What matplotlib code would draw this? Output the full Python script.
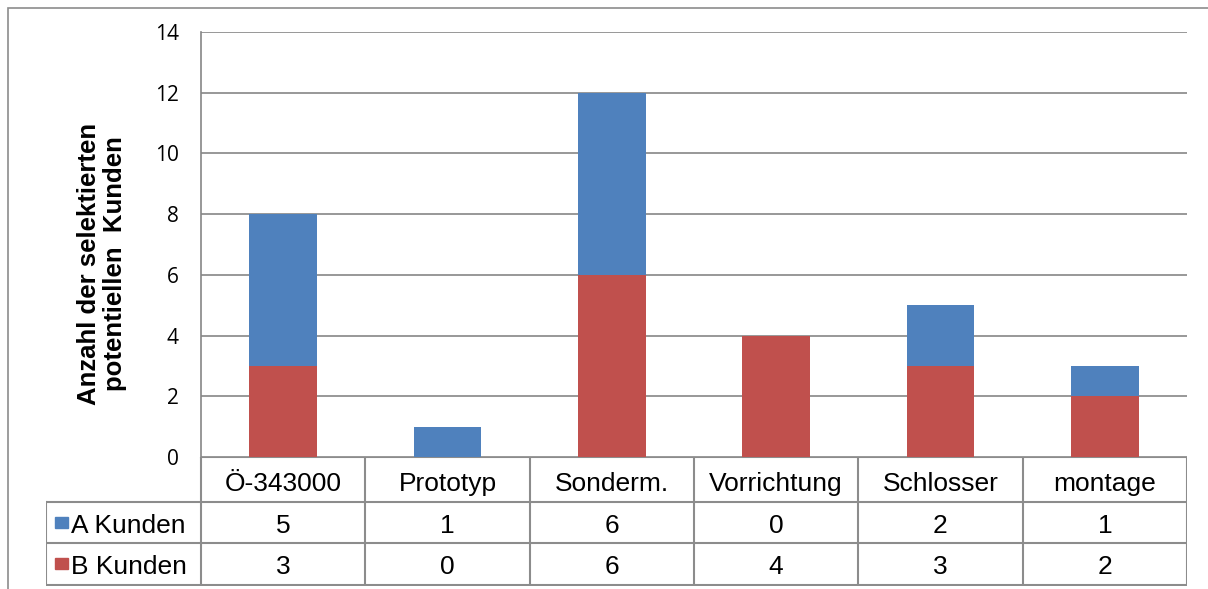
import numpy as np
import matplotlib.pyplot as plt
from matplotlib.patches import Rectangle

categories = ["Ö-343000", "Prototyp", "Sonderm.", "Vorrichtung", "Schlosser", "montage"]
a_kunden = [5, 1, 6, 0, 2, 1]
b_kunden = [3, 0, 6, 4, 3, 2]
series_names = ["A Kunden", "B Kunden"]
yticks = [0, 2, 4, 6, 8, 10, 12, 14]

blue = "#4F81BD"
red = "#C0504D"
grid_c = "#868686"

W, H = 1208, 589
fig = plt.figure(figsize=(W / 100, H / 100), dpi=100)

def px_box(x0, y0, x1, y1):
    # pixel box (top-left origin) -> figure fraction [left, bottom, width, height]
    return [x0 / W, 1 - y1 / H, (x1 - x0) / W, (y1 - y0) / H]

# outer chart frame
fig.patches.append(Rectangle((8 / W, -0.1), 1.2, 1 - 8 / H + 0.1, transform=fig.transFigure,
                             fill=False, edgecolor="#8c8c8c", linewidth=1.2))

ax = fig.add_axes(px_box(201, 32, 1187, 457))
x = np.arange(len(categories))
ax.bar(x, b_kunden, width=0.41, color=red, zorder=3)
ax.bar(x, a_kunden, width=0.41, bottom=b_kunden, color=blue, zorder=3)
ax.set_xlim(-0.5, len(categories) - 0.5)
ax.set_ylim(0, 14)
ax.set_yticks(yticks)
ax.set_yticklabels([str(t) for t in yticks], fontsize=15, family="Open Sans")
ax.tick_params(axis="y", length=0, pad=16)
ax.set_xticks([])
ax.grid(axis="y", color=grid_c, linewidth=1.2, zorder=0)
for s in ["top", "right", "bottom"]:
    ax.spines[s].set_visible(False)
ax.spines["left"].set_color(grid_c)
ax.spines["left"].set_linewidth(1.2)

fig.text(102 / W, 1 - 264 / H, "Anzahl der selektierten\npotentiellen  Kunden",
         rotation=90, ha="center", va="center", fontsize=18.5, fontweight="bold",
         family="Liberation Sans", linespacing=1.1)

# data table below the plot, x in bar units, y in pixels
label_w = (201 - 46) / ((1187 - 201) / len(categories))
tab = fig.add_axes(px_box(46, 457, 1187, 586))
tab.set_xlim(-0.5 - label_w, len(categories) - 0.5)
tab.set_ylim(129, 0)
tab.axis("off")
rows = [0, 45, 86, 128]
lc = "#8c8c8c"
lw = 1.5
left = -0.5 - label_w
# vertical dividers between category columns
for i in range(len(categories) + 1):
    tab.plot([i - 0.5, i - 0.5], [rows[0], rows[3]], color=lc, lw=lw, solid_capstyle="butt")
tab.plot([left, left], [rows[1], rows[3]], color=lc, lw=lw)
tab.plot([-0.5, len(categories) - 0.5], [rows[0], rows[0]], color=lc, lw=lw)
for r in rows[1:]:
    tab.plot([left, len(categories) - 0.5], [r, r], color=lc, lw=lw)

font = dict(family="Liberation Sans", fontsize=19, ha="center", va="center_baseline")
for i, c in enumerate(categories):
    tab.text(i, (rows[0] + rows[1]) / 2 + 2, c, **font)
for row, (vals, name, col) in enumerate(zip([a_kunden, b_kunden], series_names, [blue, red])):
    yc = (rows[row + 1] + rows[row + 2]) / 2 + 1
    for i, v in enumerate(vals):
        tab.text(i, yc, str(v), **font)
    tab.add_patch(Rectangle((left + 0.055, yc - 7), 0.08, 11, color=col))
    tab.text(left + 0.155, yc, name, family="Liberation Sans", fontsize=19,
             ha="left", va="center_baseline")

fig.savefig("out.png", dpi=100)
